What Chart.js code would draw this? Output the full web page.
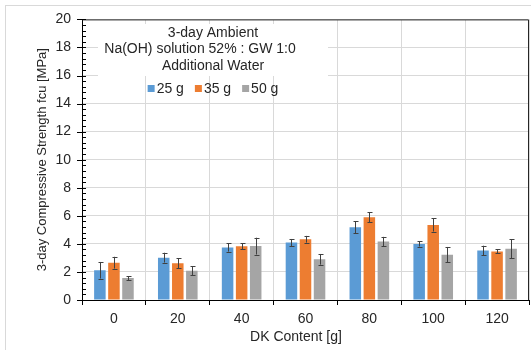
<!DOCTYPE html>
<html>
<head>
<meta charset="utf-8">
<script src="https://cdn.jsdelivr.net/npm/chart.js@4"></script>
<style>
  body { margin: 0; background: #fff; }
</style>
</head>
<body>
<canvas id="strength" width="531" height="350"></canvas>
<script>
// DK content categories
const dkContent = ['0', '20', '40', '60', '80', '100', '120'];
const waterLabels = ['25 g', '35 g', '50 g'];

// mean fcu [MPa] per additional water amount
const water25 = [2.12, 3.02, 3.75, 4.10, 5.18, 4.00, 3.53];
const water35 = [2.66, 2.62, 3.83, 4.33, 5.89, 5.35, 3.46];
const water50 = [1.56, 2.08, 3.84, 2.90, 4.17, 3.23, 3.65];

// +/- error (std dev)
const err25 = [0.59, 0.35, 0.30, 0.25, 0.44, 0.19, 0.34];
const err35 = [0.42, 0.37, 0.20, 0.24, 0.36, 0.47, 0.14];
const err50 = [0.15, 0.31, 0.60, 0.38, 0.33, 0.55, 0.67];

const titleLines = ['3-day Ambient', 'Na(OH) solution 52% : GW 1:0', 'Additional Water'];
const yTitle = '3-day Compressive Strength fcu [MPa]';
const xTitle = 'DK Content [g]';

const colors = ['#5B9BD5', '#ED7D31', '#A5A5A5'];
const errors = [err25, err35, err50];
const FONT = '"Liberation Sans", Arial, sans-serif';

// outer frame, plot frame, minor ticks, info box, error bars, x title
const extras = {
    id: 'extras',
    beforeDraw(chart) {
        const ctx = chart.ctx;
        ctx.save();
        ctx.strokeStyle = '#d9d9d9';
        ctx.lineWidth = 1;
        ctx.strokeRect(5.5, 5.5, 700, 700);
        ctx.restore();
    },
    beforeDatasetsDraw(chart) {
        const ctx = chart.ctx;
        ctx.save();
        // white box behind the title text
        ctx.fillStyle = '#fff';
        ctx.fillRect(98, 24, 230, 52);
        ctx.fillStyle = '#262626';
        ctx.font = '14px ' + FONT;
        ctx.textAlign = 'center';
        ctx.textBaseline = 'middle';
        const cx = 213;
        const lineX = [cx, 200, cx];
        titleLines.forEach((t, i) => ctx.fillText(t, lineX[i], 33 + i * 16.5));

        // legend row
        const items = waterLabels.map(l => 7 + 2 + ctx.measureText(l).width);
        const gap = 11;
        let x = cx - (items.reduce((a, b) => a + b, 0) + gap * (items.length - 1)) / 2;
        ctx.textAlign = 'left';
        waterLabels.forEach((l, i) => {
            ctx.fillStyle = colors[i];
            ctx.fillRect(x, 85, 7, 7);
            ctx.fillStyle = '#262626';
            ctx.fillText(l, x + 9, 89);
            x += items[i] + gap;
        });
        ctx.restore();
    },
    afterDatasetsDraw(chart) {
        const ctx = chart.ctx;
        const y = chart.scales.y;
        ctx.save();
        ctx.strokeStyle = '#404040';
        ctx.lineWidth = 1;
        chart.data.datasets.forEach((ds, i) => {
            const meta = chart.getDatasetMeta(i);
            meta.data.forEach((bar, j) => {
                const v = ds.data[j];
                const e = errors[i][j];
                const bx = Math.round(bar.x) + 0.5;
                const yTop = y.getPixelForValue(v + e);
                const yBot = y.getPixelForValue(v - e);
                ctx.beginPath();
                ctx.moveTo(bx, yTop);
                ctx.lineTo(bx, yBot);
                ctx.moveTo(bx - 2, Math.round(yTop) + 0.5);
                ctx.lineTo(bx + 3, Math.round(yTop) + 0.5);
                ctx.moveTo(bx - 2, Math.round(yBot) + 0.5);
                ctx.lineTo(bx + 3, Math.round(yBot) + 0.5);
                ctx.stroke();
            });
        });
        ctx.restore();
    },
    afterDraw(chart) {
        const ctx = chart.ctx;
        const a = chart.chartArea;
        const y = chart.scales.y;
        ctx.save();
        // top and right frame
        ctx.strokeStyle = '#262626';
        ctx.lineWidth = 1;
        ctx.beginPath();
        ctx.moveTo(a.left, a.top + 0.5);
        ctx.lineTo(a.right - 0.5, a.top + 0.5);
        ctx.lineTo(a.right - 0.5, a.bottom);
        ctx.stroke();
        // y tick marks, minor every 0.4
        ctx.strokeStyle = '#000';
        ctx.beginPath();
        for (let i = 0; i <= 50; i++) {
            const py = Math.round(y.getPixelForValue(i * 0.4)) + 0.5;
            const major = i % 5 === 0;
            ctx.moveTo(a.left - (major ? 5 : 0), py);
            ctx.lineTo(a.left + 4, py);
        }
        ctx.stroke();
        // x axis title
        ctx.fillStyle = '#262626';
        ctx.font = '14px ' + FONT;
        ctx.textAlign = 'center';
        ctx.textBaseline = 'middle';
        ctx.fillText(xTitle, 296, 337);
        ctx.restore();
    }
};

new Chart(document.getElementById('strength'), {
    type: 'bar',
    data: {
        labels: dkContent,
        datasets: [
            { label: waterLabels[0], data: water25, backgroundColor: colors[0] },
            { label: waterLabels[1], data: water35, backgroundColor: colors[1] },
            { label: waterLabels[2], data: water50, backgroundColor: colors[2] }
        ]
    },
    options: {
        responsive: false,
        animation: false,
        layout: { padding: { top: 17, right: 2, left: 0, bottom: 0 } },
        datasets: {
            bar: { categoryPercentage: 0.66, barPercentage: 0.82 }
        },
        plugins: {
            legend: { display: false },
            tooltip: { enabled: false }
        },
        scales: {
            x: {
                afterFit: (s) => { s.height = 50; },
                grid: { offset: true, color: '#d9d9d9', tickColor: '#000', tickLength: 5 },
                border: { color: '#000' },
                ticks: { color: '#262626', font: { family: FONT, size: 14 }, padding: 6 }
            },
            y: {
                min: 0,
                max: 20,
                afterFit: (s) => { s.width = 82; },
                grid: { color: '#d9d9d9', drawTicks: false },
                border: { color: '#000' },
                ticks: { stepSize: 2, color: '#262626', font: { family: FONT, size: 14 }, padding: 11 },
                title: {
                    display: true,
                    text: yTitle,
                    color: '#262626',
                    font: { family: FONT, size: 13 },
                    padding: { top: 35, bottom: 0 }
                }
            }
        }
    },
    plugins: [extras]
});
</script>
</body>
</html>
